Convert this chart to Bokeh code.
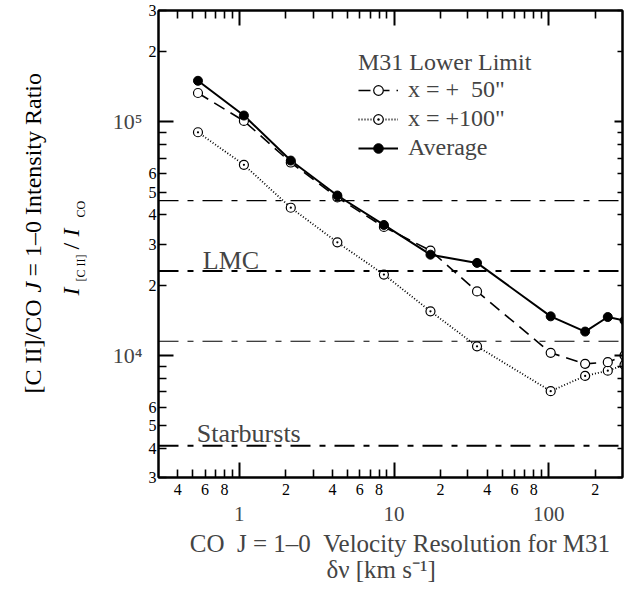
import math
from bokeh.plotting import figure
from bokeh.layouts import row
from bokeh.models import LogAxis, FixedTicker, Span, Label, Legend, LegendItem, Range1d
from bokeh.core.properties import value
from bokeh.embed import file_html
from bokeh.resources import INLINE

# ---------------- data ----------------
dv = [0.54, 1.07, 2.15, 4.3, 8.6, 17.2, 34.4, 103, 172, 241, 309]          # km/s
ratio_avg = [1.50e5, 1.065e5, 6.83e4, 4.84e4, 3.62e4, 2.70e4, 2.49e4, 1.47e4, 1.265e4, 1.46e4, 1.41e4]
ratio_50 = [1.33e5, 1.01e5, 6.7e4, 4.75e4, 3.55e4, 2.81e4, 1.88e4, 1.026e4, 9.2e3, 9.35e3, 1.0e4]
ratio_100 = [9.03e4, 6.55e4, 4.29e4, 3.05e4, 2.22e4, 1.545e4, 1.094e4, 7.03e3, 8.17e3, 8.6e3, 9.1e3]

lmc_level = 2.3e4
lmc_band = [4.6e4, 1.15e4]
starburst_level = 4.1e3

X_RANGE = (0.3, 300)
Y_RANGE = (3e3, 3e5)

x_ticks = [0.4, 0.5, 0.6, 0.7, 0.8, 0.9, 2, 3, 4, 5, 6, 7, 8, 9,
           20, 30, 40, 50, 60, 70, 80, 90, 200]
x_tick_labels = {0.4: "4", 0.6: "6", 0.8: "8", 2: "2", 4: "4", 6: "6", 8: "8",
                 20: "2", 40: "4", 60: "6", 80: "8", 200: "2"}
x_decades = [1, 10, 100]
x_decade_labels = {1: "1", 10: "10", 100: "100"}

y_ticks = [3e3, 4e3, 5e3, 6e3, 7e3, 8e3, 9e3,
           2e4, 3e4, 4e4, 5e4, 6e4, 7e4, 8e4, 9e4, 2e5, 3e5]
y_tick_labels = {3e3: "3", 4e3: "4", 5e3: "5", 6e3: "6",
                 2e4: "2", 3e4: "3", 4e4: "4", 5e4: "5", 6e4: "6", 2e5: "2", 3e5: "3"}
y_decades = [1e4, 1e5]
y_decade_labels = {1e4: "10\u2074", 1e5: "10\u2075"}

FONT = "Liberation Serif"
NB = "\u00a0"

# ---------------- layout ----------------
H = 596
TW = 108                 # width of the y-title strip
W = 519                  # width of the chart
BL, BR, BT, BB = 50, 5, 10, 119
FRAME_TOP = BT
FRAME_BOTTOM = H - BB

p = figure(width=W, height=H, x_axis_type="log", y_axis_type="log",
           x_range=X_RANGE, y_range=Y_RANGE, output_backend="svg",
           toolbar_location=None, min_border_left=BL, min_border_right=BR,
           min_border_top=BT, min_border_bottom=BB)
p.xgrid.visible = False
p.ygrid.visible = False
p.outline_line_color = "black"
p.outline_line_width = 2
p.background_fill_color = "white"
p.border_fill_color = "white"


def full_overrides(ticks, labels):
    return {float(t): labels.get(t, "") for t in ticks}


def style_ticks(ax, size):
    ax.axis_line_width = 2
    ax.axis_line_color = "black"
    ax.major_tick_in = 8
    ax.major_tick_out = 0
    ax.minor_tick_in = 15
    ax.minor_tick_out = 0
    ax.major_tick_line_width = 1.6
    ax.minor_tick_line_width = 2
    ax.major_tick_line_color = "black"
    ax.minor_tick_line_color = "black"
    ax.major_label_text_font = FONT
    ax.major_label_text_font_size = size
    ax.major_label_text_color = "black"


def bare_axis(ticks, labels):
    ax = LogAxis(ticker=FixedTicker(ticks=ticks, minor_ticks=[]),
                 major_label_overrides={float(k): v for k, v in labels.items()})
    ax.axis_line_color = None
    ax.major_tick_line_color = None
    ax.minor_tick_line_color = None
    ax.major_tick_in = 0
    ax.major_tick_out = 0
    ax.major_label_text_font = FONT
    ax.axis_label_text_font = FONT
    ax.axis_label_text_font_style = "normal"
    return ax


# bottom axis: ticks + small labels
xa = p.xaxis[0]
xa.ticker = FixedTicker(ticks=x_ticks, minor_ticks=x_decades)
xa.major_label_overrides = full_overrides(x_ticks, x_tick_labels)
style_ticks(xa, "16px")
xa.major_label_standoff = 6

# second bottom axis: decade labels + first title line
xb = bare_axis(x_decades, x_decade_labels)
xb.major_label_standoff = 9
xb.major_label_text_font_size = "21px"
xb.axis_label = NB * 3 + "CO" + NB * 2 + "J = 1\u20130" + NB * 2 + "Velocity Resolution for M31"
xb.axis_label_text_font_size = "25px"
xb.axis_label_standoff = 6
p.add_layout(xb, "below")

# third bottom axis: second title line only
xc = bare_axis([], {})
xc.axis_label = "\u03b4\u03bd [km s\u207b\u00b9]" + NB * 3
xc.axis_label_text_font_size = "25px"
xc.axis_label_standoff = -4
p.add_layout(xc, "below")

# left axis: ticks + small labels
ya = p.yaxis[0]
ya.ticker = FixedTicker(ticks=y_ticks, minor_ticks=y_decades)
ya.major_label_overrides = full_overrides(y_ticks, y_tick_labels)
style_ticks(ya, "16px")
ya.major_label_standoff = 2

# second left axis: decade labels
yb = bare_axis(y_decades, y_decade_labels)
yb.major_label_standoff = 3
yb.major_label_text_font_size = "22px"
p.add_layout(yb, "left")

# top and right: ticks only
xt = LogAxis(ticker=FixedTicker(ticks=x_ticks, minor_ticks=x_decades),
             major_label_overrides=full_overrides(x_ticks, {}))
style_ticks(xt, "0px")
xt.major_label_standoff = 0
p.add_layout(xt, "above")

yr = LogAxis(ticker=FixedTicker(ticks=y_ticks, minor_ticks=y_decades),
             major_label_overrides=full_overrides(y_ticks, {}))
style_ticks(yr, "0px")
yr.major_label_standoff = 0
yr.major_tick_in = 5
yr.minor_tick_in = 8
p.add_layout(yr, "right")

# ---------------- reference levels ----------------
DASHDOT = "20 9 6 9"
for lvl in lmc_band:
    p.add_layout(Span(location=lvl, dimension="width", line_color="black",
                      line_width=1.1, line_dash=DASHDOT))
for lvl in [lmc_level, starburst_level]:
    p.add_layout(Span(location=lvl, dimension="width", line_color="black",
                      line_width=2, line_dash=DASHDOT))

p.add_layout(Label(x=0.58, y=lmc_level, y_offset=10, text="LMC",
                   text_font=FONT, text_font_size="26px", text_baseline="alphabetic"))
p.add_layout(Label(x=0.53, y=starburst_level, y_offset=12, text="Starbursts",
                   text_font=FONT, text_font_size="26px", text_baseline="alphabetic"))

# ---------------- series ----------------
l100 = p.line(dv, ratio_100, line_color="black", line_width=1.8, line_dash="1 2")
l50 = p.line(dv, ratio_50, line_color="black", line_width=1.6, line_dash="12 7")
lav = p.line(dv, ratio_avg, line_color="black", line_width=2)
m100 = p.scatter(dv, ratio_100, marker="circle_dot", size=9, line_color="black",
                 fill_color="white", line_width=1.2)
m50 = p.scatter(dv, ratio_50, marker="circle", size=9, line_color="black",
                fill_color="white", line_width=1.2)
mav = p.scatter(dv, ratio_avg, marker="circle", size=9, line_color="black",
                fill_color="black")

legend = Legend(items=[
    LegendItem(label="x = +" + NB * 2 + "50\"", renderers=[l50, m50]),
    LegendItem(label="x = +100\"", renderers=[l100, m100]),
    LegendItem(label="Average", renderers=[lav, mav]),
], location=(200, 316), title="M31 Lower Limit")
legend.title_text_font = FONT
legend.title_text_font_size = "24px"
legend.title_text_font_style = "normal"
legend.title_standoff = 0
legend.label_text_font = FONT
legend.label_text_font_size = "24px"
legend.glyph_width = 40
legend.glyph_height = 24
legend.label_height = 24
legend.label_standoff = 10
legend.spacing = 2
legend.padding = 0
legend.margin = 0
legend.border_line_color = None
legend.background_fill_alpha = 0
p.add_layout(legend)

# ---------------- y title strip (frame aligned with the chart frame) ----------------
# coordinates in this strip are picture pixels: x = px, y = -py
t = figure(width=TW, height=H,
           x_range=Range1d(0, TW),
           y_range=Range1d(-FRAME_BOTTOM, -FRAME_TOP),
           min_border=0, x_axis_location=None, y_axis_location=None,
           toolbar_location=None, output_backend="svg", title=None)
t.outline_line_color = None
t.grid.visible = False
t.background_fill_color = "white"
t.border_fill_color = "white"

# (text, size, style, start y (lower end), baseline x)
title_parts = [
    ("[C II]/CO", "24px", "normal", 393, 32),
    ("J", "24px", "italic", 292, 32),
    ("= 1\u20130 Intensity Ratio", "24px", "normal", 276, 32),
    ("I", "24px", "italic", 295, 70),
    ("[C II]", "12px", "normal", 281, 80),
    ("/", "24px", "normal", 249, 70),
    ("I", "24px", "italic", 236, 70),
    ("CO", "12px", "normal", 217, 80),
]
for txt, fs, st, py, bx in title_parts:
    t.text(x=[bx], y=[-py], text=[txt], angle=math.pi / 2,
           text_font=value(FONT), text_font_size=value(fs), text_font_style=st,
           text_align="left", text_baseline="alphabetic", text_color="black")

layout = row(t, p)
open("out.html", "w").write(file_html(layout, INLINE))
